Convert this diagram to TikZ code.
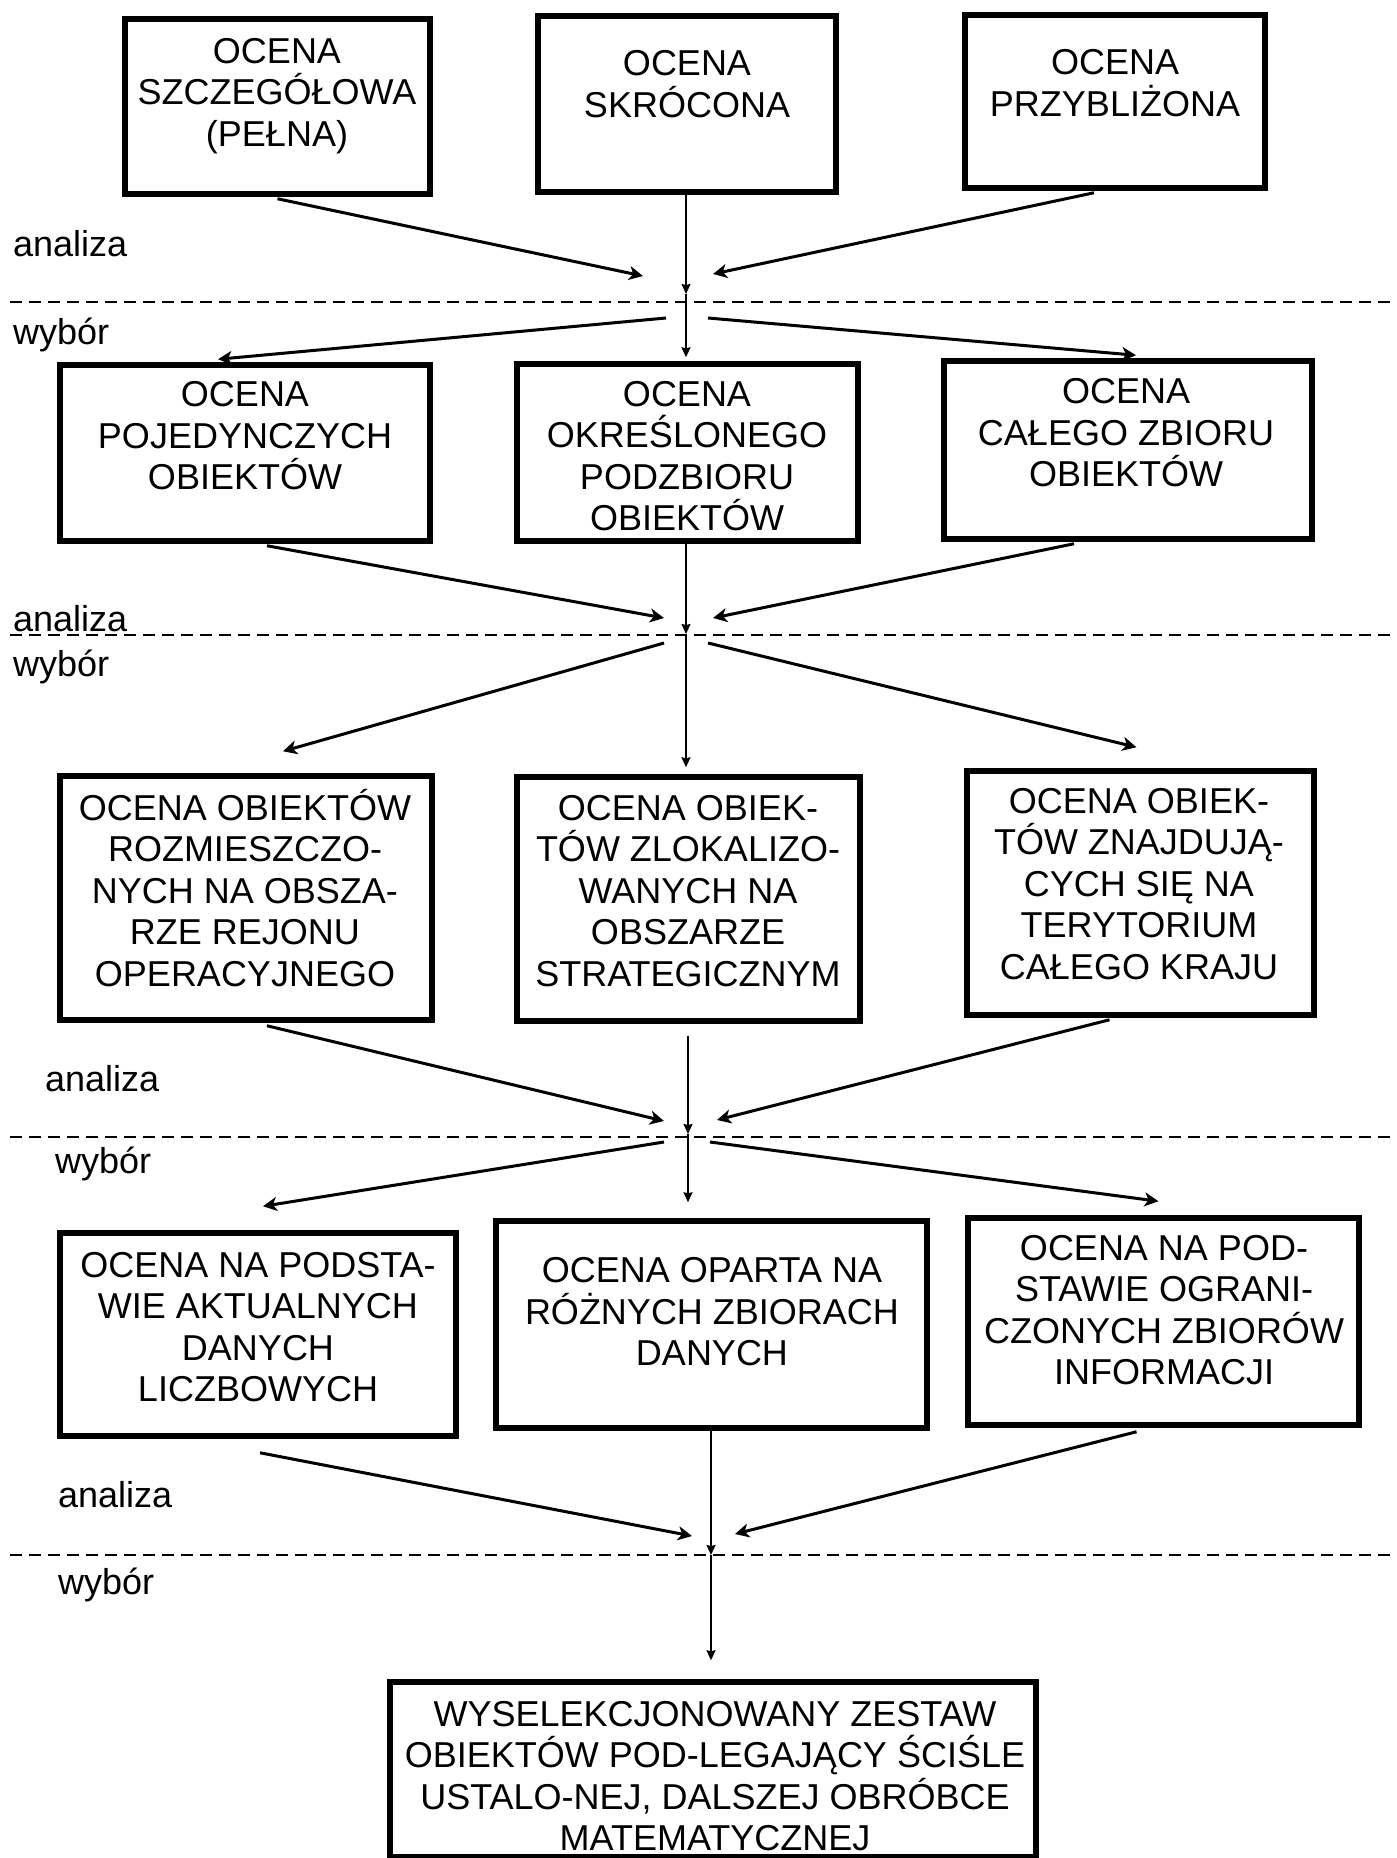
\documentclass[tikz,border=0pt]{standalone}
\usepackage{fontspec}
\setmainfont{Liberation Sans}
\usetikzlibrary{arrows.meta}

\begin{document}
\begin{tikzpicture}[x=1pt,y=-1pt,
  box/.style={draw, line width=5.5pt, inner sep=0pt},
  lbl/.style={align=center, font=\fontsize{36}{41.5}\selectfont, inner sep=0pt},
  side/.style={font=\fontsize{36}{41.5}\selectfont, anchor=base west, inner sep=0pt},
  feed/.style={line width=3pt, -{Stealth[length=14pt,width=14pt,inset=4pt]}},
  spine/.style={line width=1.5pt, -{Stealth[length=10pt,width=9pt,inset=1pt]}},
  sep/.style={line width=2pt, dash pattern=on 12pt off 7pt}]
\useasboundingbox (0,0) rectangle (1397,1858);

% ---------- level 1 ----------
\node[box, minimum width=305pt, minimum height=175pt] (a) at (277.5,106.5) {};
\node[box, minimum width=298pt, minimum height=176pt] (b) at (687,104) {};
\node[box, minimum width=300pt, minimum height=173pt] (c) at (1115,101.5) {};
\node[lbl] (at) at (277,96) {OCENA\\SZCZEGÓŁOWA\\(PEŁNA)};
\node[lbl] (bt) at (687,84) {OCENA\\SKRÓCONA};
\node[lbl] (ct) at (1115,83) {OCENA\\PRZYBLIŻONA};

% ---------- level 2 ----------
\node[box, minimum width=370pt, minimum height=176pt] (d) at (245,453) {};
\node[box, minimum width=341pt, minimum height=177pt] (e) at (687.5,452.5) {};
\node[box, minimum width=368pt, minimum height=178pt] (f) at (1128,450) {};
\node[lbl] (dt) at (245,436) {OCENA\\POJEDYNCZYCH\\OBIEKTÓW};
\node[lbl] (et) at (687,456) {OCENA\\OKREŚLONEGO\\PODZBIORU\\OBIEKTÓW};
\node[lbl] (ft) at (1126,433) {OCENA\\CAŁEGO ZBIORU\\OBIEKTÓW};

% ---------- level 3 ----------
\node[box, minimum width=372pt, minimum height=244pt] (g) at (246,898) {};
\node[box, minimum width=343pt, minimum height=244pt] (h) at (688.5,899) {};
\node[box, minimum width=347pt, minimum height=244pt] (i) at (1140.5,893) {};
\node[lbl] (gt) at (245,888) {OCENA OBIEKTÓW\\ROZMIESZCZO-\\NYCH NA OBSZA-\\RZE REJONU\\OPERACYJNEGO};
\node[lbl] (ht) at (688,891) {OCENA OBIEK-\\TÓW ZLOKALIZO-\\WANYCH NA\\OBSZARZE\\STRATEGICZNYM};
\node[lbl] (it) at (1139,884) {OCENA OBIEK-\\TÓW ZNAJDUJĄ-\\CYCH SIĘ NA\\TERYTORIUM\\CAŁEGO KRAJU};

% ---------- level 4 ----------
\node[box, minimum width=396pt, minimum height=203pt] (j) at (258,1334.5) {};
\node[box, minimum width=431pt, minimum height=207pt] (k) at (711.5,1324.5) {};
\node[box, minimum width=391pt, minimum height=207pt] (l) at (1163.5,1321.5) {};
\node[lbl] (jt) at (258,1327) {OCENA NA PODSTA-\\WIE AKTUALNYCH\\DANYCH\\LICZBOWYCH};
\node[lbl] (kt) at (712,1312) {OCENA OPARTA NA\\RÓŻNYCH ZBIORACH\\DANYCH};
\node[lbl] (lt) at (1164,1310) {OCENA NA POD-\\STAWIE OGRANI-\\CZONYCH ZBIORÓW\\INFORMACJI};

% ---------- result ----------
\node[box, minimum width=646pt, minimum height=175pt] (m) at (713,1769.5) {};
\node[lbl] (mt) at (715,1776) {WYSELEKCJONOWANY ZESTAW\\OBIEKTÓW POD-LEGAJĄCY ŚCIŚLE\\USTALO-NEJ, DALSZEJ OBRÓBCE\\MATEMATYCZNEJ};

% ---------- analysis / choice separators ----------
\draw[sep] (10,302) -- (1397,302);
\draw[sep] (10,635) -- (1397,635);
\draw[sep] (10,1137) -- (1397,1137);
\draw[sep] (10,1555) -- (1397,1555);

\node[side] (an1) at (13,256) {analiza};
\node[side] (wy1) at (13,344) {wybór};
\node[side] (an2) at (13,631) {analiza};
\node[side] (wy2) at (13,676) {wybór};
\node[side] (an3) at (45,1091) {analiza};
\node[side] (wy3) at (55,1173) {wybór};
\node[side] (an4) at (58,1507) {analiza};
\node[side] (wy4) at (58,1594) {wybór};

% ---------- hub points ----------
\coordinate (h1) at (686,294);
\coordinate (h1l) at (643,276);  \coordinate (h1r) at (713,274);
\coordinate (h1ol) at (666,318); \coordinate (h1or) at (708,318);
\coordinate (h2) at (686,634);
\coordinate (h2l) at (664,618);  \coordinate (h2r) at (713,618);
\coordinate (h2ol) at (664,643); \coordinate (h2or) at (708,643);
\coordinate (h3) at (688,1134);
\coordinate (h3l) at (664,1121); \coordinate (h3r) at (717,1120);
\coordinate (h3ol) at (664,1142); \coordinate (h3or) at (710,1142);
\coordinate (h4) at (711,1555);
\coordinate (h4l) at (692,1536); \coordinate (h4r) at (735,1534);

% ---------- level 1 -> level 2 ----------
\draw[feed] ([yshift=-2pt]a.south) -- (h1l);
\draw[feed] ([xshift=-21pt,yshift=-2pt]c.south) -- (h1r);
\draw[spine] (h1 |- b.south) -- (h1);
\draw[spine] (h1) -- ([yshift=4pt]h1 |- e.north);
\draw[feed] (h1ol) -- ([xshift=-27pt,yshift=3pt]d.north);
\draw[feed] (h1or) -- ([xshift=8pt,yshift=3pt]f.north);

% ---------- level 2 -> level 3 ----------
\draw[feed] ([xshift=22pt,yshift=-2pt]d.south) -- (h2l);
\draw[feed] ([xshift=-54pt,yshift=-2pt]f.south) -- (h2r);
\draw[spine] (h2 |- e.south) -- (h2);
\draw[spine] (h2) -- ([yshift=7pt]h2 |- h.north);
\draw[feed] (h2ol) -- ([xshift=37pt,yshift=22pt]g.north);
\draw[feed] (h2or) -- ([xshift=-4pt,yshift=21pt]i.north);

% ---------- level 3 -> level 4 ----------
\draw[feed] ([xshift=21pt,yshift=-3pt]g.south) -- (h3l);
\draw[feed] ([xshift=-31pt,yshift=-2pt]i.south) -- (h3r);
\draw[spine] ([yshift=-12pt]h3 |- h.south) -- (h3);
\draw[spine] (h3) -- ([yshift=16pt]h3 |- k.north);
\draw[feed] (h3ol) -- ([xshift=5pt,yshift=24pt]j.north);
\draw[feed] (h3or) -- ([xshift=-5pt,yshift=14pt]l.north);

% ---------- level 4 -> result ----------
\draw[feed] ([xshift=2pt,yshift=-14pt]j.south) -- (h4l);
\draw[feed] ([xshift=-27pt,yshift=-4pt]l.south) -- (h4r);
\draw[spine] (h4 |- k.south) -- (h4);
\draw[spine] (h4) -- ([yshift=19pt]h4 |- m.north);
\end{tikzpicture}
\end{document}
